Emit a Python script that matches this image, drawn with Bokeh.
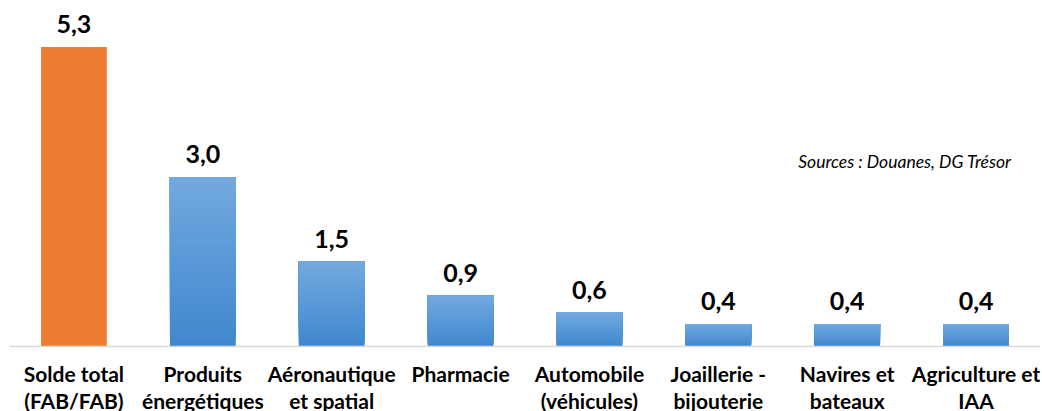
from bokeh.plotting import figure
from bokeh.models import ColumnDataSource, Label, FactorRange, Range1d, Span
from bokeh.embed import file_html
from bokeh.resources import INLINE
from bokeh.core.properties import value

# Trade balance contributions (Md€)
categories = [
    "Solde total\n(FAB/FAB)",
    "Produits\nénergétiques",
    "Aéronautique\net spatial",
    "Pharmacie",
    "Automobile\n(véhicules)",
    "Joaillerie -\nbijouterie",
    "Navires et\nbateaux",
    "Agriculture et\nIAA",
]
values = [5.3, 3.0, 1.5, 0.9, 0.6, 0.4, 0.4, 0.4]

FONT = "Lato"
ORANGE = "#ED7D31"
BLUE_TOP = (114, 168, 223)
BLUE_BOTTOM = (64, 136, 206)

p = figure(
    x_range=FactorRange(*categories, range_padding=0),
    y_range=Range1d(-1.150, 6.124),
    width=1042, height=411,
    output_backend="svg", toolbar_location=None,
    min_border_left=9, min_border_right=2, min_border_top=0, min_border_bottom=0,
)
p.outline_line_color = None
p.grid.visible = False
p.axis.visible = False
p.background_fill_color = "white"
p.border_fill_color = "white"

# Total balance bar (solid orange)
p.vbar(x=categories[:1], top=values[:1], width=0.51, fill_color=ORANGE, line_color=None)

# Sector bars: vertical gradient made of overlapping layers, each reaching the bar top
steps = 30
xs, bottoms, tops, colors = [], [], [], []
for k in range(steps):
    t = k / (steps - 1)
    r = round(BLUE_BOTTOM[0] + (BLUE_TOP[0] - BLUE_BOTTOM[0]) * t)
    g = round(BLUE_BOTTOM[1] + (BLUE_TOP[1] - BLUE_BOTTOM[1]) * t)
    b = round(BLUE_BOTTOM[2] + (BLUE_TOP[2] - BLUE_BOTTOM[2]) * t)
    for c, v in zip(categories[1:], values[1:]):
        xs.append(c)
        bottoms.append(v * k / steps)
        tops.append(v)
        colors.append(f"#{r:02x}{g:02x}{b:02x}")
p.vbar(x=xs, bottom=bottoms, top=tops, width=0.51, fill_color=colors, line_color=None)

# Baseline
p.add_layout(Span(location=0, dimension="width", line_color="#D9D9D9", line_width=1.5))

# Value labels above bars
labels = ColumnDataSource(dict(
    x=categories, y=values, text=[f"{v:.1f}".replace(".", ",") for v in values]
))
p.text(x="x", y="y", text="text", source=labels, text_align="center",
       text_baseline="alphabetic", y_offset=-23,
       text_font=value(FONT), text_font_style="bold", text_font_size="25px",
       text_color="black")

# Category names under the baseline
names = ColumnDataSource(dict(x=categories, y=[0] * len(categories), text=categories))
p.text(x="x", y="y", text="text", source=names, text_align="center",
       text_baseline="top", y_offset=14, text_line_height=1.1,
       text_font=value(FONT), text_font_style="bold", text_font_size="21px",
       text_color="black")

src = Label(x=6.12, y=3.28, text="Sources : Douanes, DG Trésor",
            text_font=FONT, text_font_style="italic", text_font_size="17.5px",
            text_color="black", text_align="left", text_baseline="alphabetic")
p.add_layout(src)

open("out.html", "w").write(file_html(p, INLINE))
